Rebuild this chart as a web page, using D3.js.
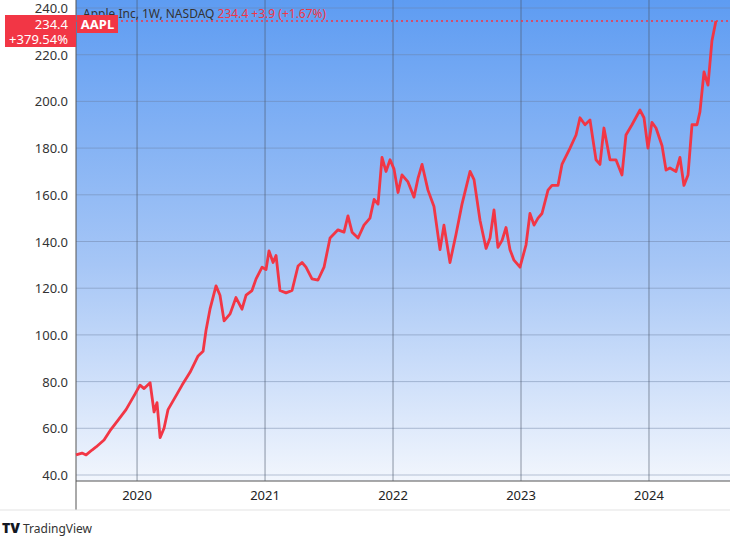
<!DOCTYPE html>
<html><head><meta charset="utf-8">
<script src="https://cdn.jsdelivr.net/npm/d3@7"></script>
<style>body{margin:0;background:#fff;font-family:"Noto Sans",sans-serif}</style>
</head><body><svg id="c" width="730" height="540"></svg>
<script>
const years = [2019.523,2019.570,2019.602,2019.648,2019.680,2019.742,2019.789,2019.852,2019.914,2019.977,2020.023,2020.055,2020.102,2020.133,2020.156,2020.180,2020.211,2020.242,2020.305,2020.352,2020.414,2020.477,2020.516,2020.539,2020.570,2020.617,2020.648,2020.680,2020.727,2020.773,2020.820,2020.852,2020.898,2020.930,2020.977,2021.008,2021.031,2021.063,2021.086,2021.117,2021.164,2021.211,2021.258,2021.289,2021.320,2021.367,2021.414,2021.461,2021.508,2021.570,2021.617,2021.648,2021.680,2021.727,2021.773,2021.820,2021.852,2021.883,2021.914,2021.945,2021.977,2022.008,2022.039,2022.070,2022.117,2022.164,2022.195,2022.227,2022.273,2022.320,2022.367,2022.398,2022.445,2022.492,2022.539,2022.602,2022.633,2022.680,2022.727,2022.758,2022.789,2022.820,2022.852,2022.883,2022.914,2022.945,2022.992,2023.039,2023.070,2023.102,2023.133,2023.164,2023.211,2023.242,2023.289,2023.320,2023.383,2023.430,2023.461,2023.500,2023.539,2023.586,2023.617,2023.648,2023.695,2023.742,2023.789,2023.820,2023.867,2023.930,2023.961,2023.992,2024.023,2024.055,2024.102,2024.133,2024.164,2024.211,2024.242,2024.273,2024.305,2024.336,2024.375,2024.398,2024.430,2024.461,2024.492,2024.523];
const prices = [48.6,49.4,48.6,50.7,52,55,59,63.5,68,74,78.5,77,79.5,67,71,56,60,68,74,78.5,84,91,93,102,111,121,117,106,109,116,111,117,119,124,129,128,136,131,134,119,118,119,129.5,131,129,124,123.5,129,141.5,145,144,151,144,141.5,147,150,158,156,176,170,175,171,161,168.5,165.5,159,167,173,162,155,136.5,147,131,143,156,170,166.5,149,137,141.5,153.5,137.5,140.5,146,136.5,132,129,138.5,152,147,150,152,162,164,164,173,180,185.6,193,190,192,175,173,188.6,175,175,168.5,185.6,190,196.3,193,180,191,188.6,181,170.6,171.5,170,176,164,168.5,190,190,195.5,212.6,207,226,234.4];
const yTicks = [40,60,80,100,120,140,160,180,200,220,240];
const xTicks = [2020,2021,2022,2023,2024];
const lastPrice = 234.4, change = "+3.9 (+1.67%)", pct = "+379.54%";

const svg = d3.select("#c");
const L=76,R=730,T=0,B=481;
const x = d3.scaleLinear().domain([2019.523,2024.633]).range([L,R]);
const y = d3.scaleLinear().domain([40,240]).range([475,8]);
const defs = svg.append("defs");
const g = defs.append("linearGradient").attr("id","bg").attr("x1",0).attr("x2",0).attr("y1",0).attr("y2",1);
g.append("stop").attr("offset","0%").attr("stop-color","#5e9cf2");
g.append("stop").attr("offset","55%").attr("stop-color","#a6c6f6");
g.append("stop").attr("offset","100%").attr("stop-color","#f2f6fd");
svg.append("rect").attr("x",L).attr("y",T).attr("width",R-L).attr("height",B-T).attr("fill","url(#bg)");
svg.append("g").selectAll("line").data(yTicks).join("line")
 .attr("x1",L).attr("x2",R).attr("y1",d=>y(d)).attr("y2",d=>y(d)).attr("stroke","#6a7fa0").attr("stroke-opacity",0.45);
svg.append("g").selectAll("line").data(xTicks).join("line")
 .attr("x1",d=>x(d)).attr("x2",d=>x(d)).attr("y1",T).attr("y2",B).attr("stroke","#4a5568").attr("stroke-opacity",0.6);
svg.append("line").attr("x1",L).attr("x2",R).attr("y1",B).attr("y2",B).attr("stroke","#555");
svg.append("line").attr("x1",L).attr("x2",L).attr("y1",T).attr("y2",510).attr("stroke","#555");
svg.append("line").attr("x1",0).attr("x2",R).attr("y1",510).attr("y2",510).attr("stroke","#e3e3e3");
svg.append("g").selectAll("text").data(yTicks).join("text")
 .attr("x",68).attr("y",d=>y(d)+5).attr("text-anchor","end").attr("font-size",13).attr("fill","#333").text(d=>d.toFixed(1));
svg.append("g").selectAll("text").data(xTicks).join("text")
 .attr("x",d=>x(d)).attr("y",500).attr("text-anchor","middle").attr("font-size",13).attr("fill","#222").text(d=>d);
const data = years.map((t,i)=>[t,prices[i]]);
svg.append("path").datum(data).attr("fill","none").attr("stroke","#f23645").attr("stroke-width",2.8)
 .attr("stroke-linejoin","round").attr("d",d3.line().x(d=>x(d[0])).y(d=>y(d[1])));
svg.append("line").attr("x1",L).attr("x2",R).attr("y1",y(lastPrice)).attr("y2",y(lastPrice))
 .attr("stroke","#f23645").attr("stroke-width",1.5).attr("stroke-dasharray","2,3");
const t = svg.append("text").attr("x",83).attr("y",18).attr("font-size",12);
t.append("tspan").attr("fill","#333").text("Apple Inc, 1W, NASDAQ ");
t.append("tspan").attr("fill","#f23645").text(lastPrice+" "+change);
svg.append("rect").attr("x",5).attr("y",15).attr("width",71).attr("height",32).attr("fill","#f23645");
svg.append("text").attr("x",68).attr("y",29).attr("text-anchor","end").attr("font-size",13).attr("fill","#fff").text(lastPrice);
svg.append("text").attr("x",68).attr("y",44).attr("text-anchor","end").attr("font-size",13).attr("fill","#fff").text(pct);
svg.append("rect").attr("x",77).attr("y",15).attr("width",41).attr("height",18).attr("fill","#f23645");
svg.append("text").attr("x",97.5).attr("y",29).attr("text-anchor","middle").attr("font-size",13).attr("font-weight","bold").attr("fill","#fff").text("AAPL");
svg.append("text").attr("x",2).attr("y",533).attr("font-size",14).attr("font-weight","900").attr("fill","#131722").text("TV");
svg.append("text").attr("x",23).attr("y",533).attr("font-size",12).attr("fill","#333").text("TradingView");
</script></body></html>
